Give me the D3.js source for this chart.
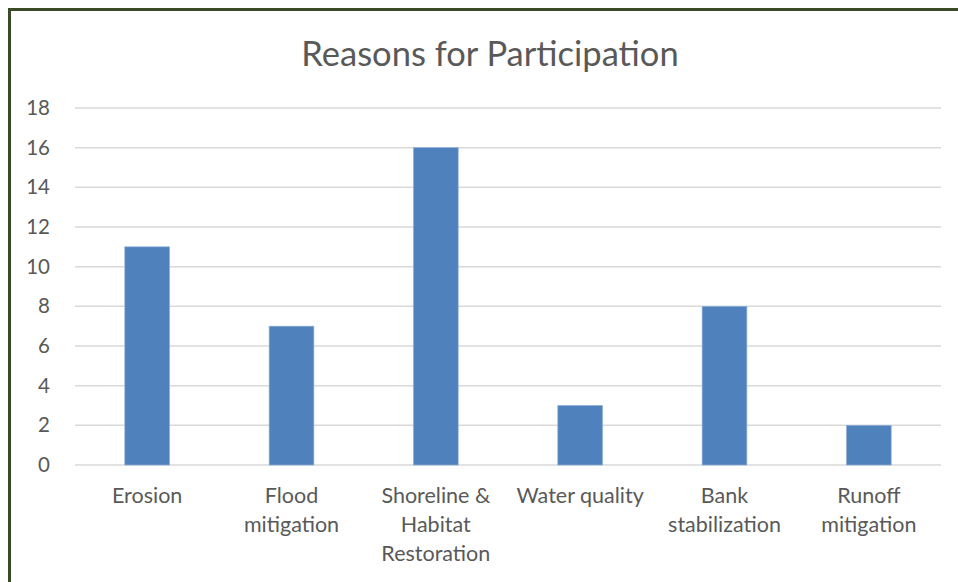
<!DOCTYPE html>
<html>
<head>
<meta charset="utf-8">
<script src="https://cdn.jsdelivr.net/npm/d3@7"></script>
<style>
  body { margin: 0; background: #fff; }
  text { font-family: Lato, "Open Sans", sans-serif; fill: #595959; }
</style>
</head>
<body>
<div id="chart"></div>
<script>
let categories = [
    ["Erosion"],
    ["Flood", "mitigation"],
    ["Shoreline &", "Habitat", "Restoration"],
    ["Water quality"],
    ["Bank", "stabilization"],
    ["Runoff", "mitigation"]
];
let values = [11, 7, 16, 3, 8, 2];
let ticks = [0, 2, 4, 6, 8, 10, 12, 14, 16, 18];

let larg = 958;
let alt = 582;

let canvas = d3.select("#chart")
                .append("svg")
                .attr("width", larg)
                .attr("height", alt);

// frame
canvas.append("rect")
        .attr("x", 9.5)
        .attr("y", 9.5)
        .attr("width", 960)
        .attr("height", 600)
        .attr("fill", "white")
        .attr("stroke", "#3b4a27")
        .attr("stroke-width", 3);

canvas.append("text")
        .attr("x", 490)
        .attr("y", 66)
        .attr("text-anchor", "middle")
        .style("font-size", "34.5px")
        .text("Reasons for Participation");

var x = d3.scaleBand()
            .domain(d3.range(categories.length))
            .range([75, 941])
            .paddingInner(0.69)
            .paddingOuter(0.345);

var y = d3.scaleLinear()
            .domain([0, 18])
            .range([465, 108]);

var grid = canvas.append("g");
grid.selectAll("line")
    .data(ticks)
    .enter()
        .append("line")
        .attr("x1", 75)
        .attr("x2", 941)
        .attr("y1", (d) => y(d))
        .attr("y2", (d) => y(d))
        .attr("stroke", "#d9d9d9")
        .attr("stroke-width", 1.5);

var yAxis = d3.axisLeft(y).tickValues(ticks).tickSize(0).tickPadding(0);
canvas.append("g")
        .attr("transform", "translate(50,0)")
        .call(yAxis)
        .call(g => g.select(".domain").remove())
        .selectAll("text")
            .style("font-size", "20.5px")
            .style("font-family", "Lato, sans-serif")
            .attr("fill", "#595959");

canvas.selectAll("rect.bar")
        .data(values)
        .enter()
            .append("rect")
            .attr("class", "bar")
            .attr("x", (d, i) => x(i))
            .attr("width", x.bandwidth())
            .attr("y", (d) => y(d))
            .attr("height", (d) => y(0) - y(d))
            .attr("fill", "#4f81bd")
            .attr("stroke", "#8fb0d8")
            .attr("stroke-width", 0.7);

var labels = canvas.selectAll("text.cat")
        .data(categories)
        .enter()
            .append("text")
            .attr("class", "cat")
            .attr("text-anchor", "middle")
            .attr("x", (d, i) => x(i) + x.bandwidth() / 2)
            .attr("y", 503)
            .style("font-size", "21.5px");

labels.selectAll("tspan")
        .data((d) => d)
        .enter()
            .append("tspan")
            .attr("x", function() { return d3.select(this.parentNode).attr("x"); })
            .attr("dy", (d, i) => i == 0 ? 0 : 29)
            .text((d) => d);
</script>
</body>
</html>
